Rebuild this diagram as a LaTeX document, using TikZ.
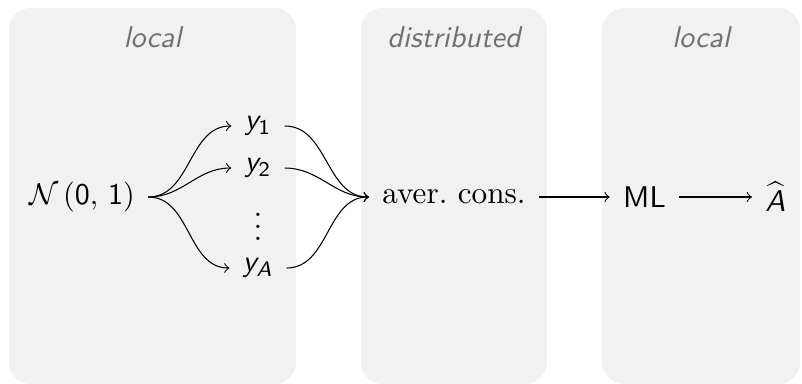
\documentclass[tikz,border=0pt]{standalone}
\DeclareMathAlphabet{\mathsfit}{OT1}{cmss}{m}{sl}
\definecolor{panelfill}{RGB}{241,241,241}
\definecolor{paneltitle}{RGB}{112,112,112}

\begin{document}
\begin{tikzpicture}[x=0.3333pt, y=-0.3333pt,
  panel/.style={fill=panelfill, draw=none, rounded corners=7.3pt},
  paneltext/.style={text=paneltitle, font=\sffamily\itshape, anchor=base, inner sep=0pt},
  item/.style={inner xsep=4.3pt, inner ysep=2pt, font=\fontsize{10.4}{12.5}\selectfont},
  flow/.style={->, line width=0.35pt},
]
  \useasboundingbox (0,0) rectangle (802,384);

  % three shaded stages
  \path[panel] (9,8)   rectangle (296,384);
  \path[panel] (361,8) rectangle (547,384);
  \path[panel] (602,8) rectangle (800,384);

  \node[paneltext] (t1) at (152.5,47) {local};
  \node[paneltext] (t2) at (454,47)   {distributed};
  \node[paneltext] (t3) at (701,47)   {local};

  % nodes
  \node[item] (src) at (82,197)  {$\mathcal{N}\,(\mathsf{0},\,\mathsf{1})$};
  \node[item] (y1)  at (258,126) {$\mathsfit{y}_{\mathsf{1}}$};
  \node[item] (y2)  at (258,168) {$\mathsfit{y}_{\mathsf{2}}$};
  \node[item, inner sep=0pt] (dots) at (258,218) {$\vdots$};
  \node[item] (yA)  at (258,268) {$\mathsfit{y}_{\mathsfit{A}}$};
  \node[item] (avg) at (454,197) {aver.\ cons.};
  \node[item] (ml)  at (644.5,197) {$\mathsf{ML}$};
  \node[item] (est) at (775.5,197) {$\widehat{\mathsfit{A}}$};

  % fan out to the samples
  \draw[flow] (src.east) to[out=0,in=180] (y1.west);
  \draw[flow] (src.east) to[out=0,in=180] (y2.west);
  \draw[flow] (src.east) to[out=0,in=180] (yA.west);

  % fan in to the consensus step
  \draw[flow] (y1.east) to[out=0,in=180] (avg.west);
  \draw[flow] (y2.east) to[out=0,in=180] (avg.west);
  \draw[flow] (yA.east) to[out=0,in=180] (avg.west);

  % remaining chain
  \draw[flow] (avg) -- (ml);
  \draw[flow] (ml) -- (est);
\end{tikzpicture}
\end{document}
